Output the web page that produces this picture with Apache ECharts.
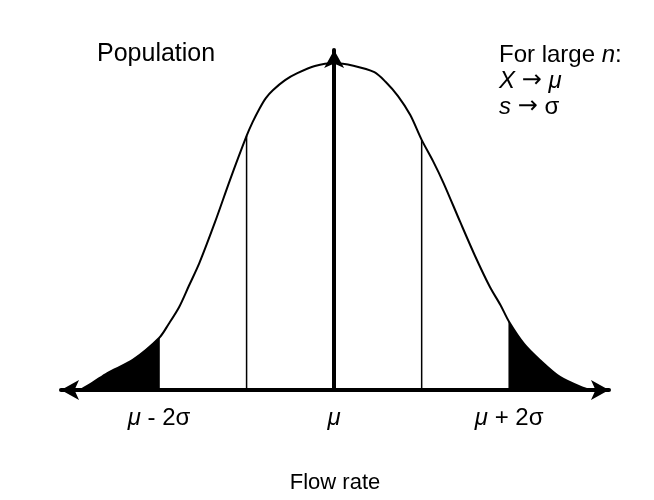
<!DOCTYPE html>
<html>
<head>
<meta charset="utf-8">
<script src="https://cdn.jsdelivr.net/npm/echarts@6/dist/echarts.min.js"></script>
<style>
  html, body { margin: 0; padding: 0; background: #fff; }
  #main { width: 654px; height: 500px; }
</style>
</head>
<body>
<div id="main"></div>
<script>
// curve: x in sigma units from mu, y in % of the peak height
var curveX = [-2.90, -2.75, -2.59, -2.30, -2.00, -1.89, -1.77, -1.66, -1.54, -1.36, -1.19, -1.00, -0.93, -0.85, -0.78, -0.70, -0.56, -0.42, -0.22, 0,
  0.22, 0.46, 0.59, 0.73, 0.87, 1.00, 1.13, 1.25, 1.44, 1.61, 1.78, 1.90, 2.00, 2.17, 2.35, 2.58, 2.85, 2.94]
var curveY = [0, 2.4, 5.2, 9.2, 15.9, 20.2, 25.4, 31.8, 38.8, 51.4, 64.2, 77.7, 82.0, 86.2, 89.3, 91.7, 94.8, 96.9, 99.1, 100,
  99.2, 97.2, 94.2, 89.9, 84.1, 76.5, 70.0, 63.3, 51.4, 41.0, 31.5, 26.0, 20.8, 14.1, 9.2, 4.0, 0.6, 0]

// vertical lines at mu +- sigma, mu +- 2 sigma
var lineX = [-2, -1, 1, 2]
var lineY = [15.9, 77.7, 76.5, 20.8]

// tick labels
var tickValues = [-2, 0, 2]
var tickLabels = ['{i|μ} - 2σ', '{i|μ}', '{i|μ} + 2σ']

var font = '"Liberation Sans", Arial, sans-serif'

function initChart() {
  var chart = echarts.init(document.getElementById('main'))

  var curve = curveX.map(function (x, i) { return [x, curveY[i]] })
  var leftTail = curve.filter(function (p) { return p[0] <= -2 })
  var rightTail = curve.filter(function (p) { return p[0] >= 2 })

  var series = [
    {
      type: 'line',
      data: leftTail,
      smooth: 0.3,
      symbol: 'none',
      lineStyle: { width: 0 },
      areaStyle: { color: '#000', opacity: 1 },
      silent: true,
      z: 1,
    },
    {
      type: 'line',
      data: rightTail,
      smooth: 0.3,
      symbol: 'none',
      lineStyle: { width: 0 },
      areaStyle: { color: '#000', opacity: 1 },
      silent: true,
      z: 1,
    },
    {
      type: 'line',
      data: curve,
      smooth: 0.3,
      symbol: 'none',
      lineStyle: { color: '#000', width: 2 },
      silent: true,
      z: 3,
    },
  ]

  lineX.forEach(function (x, i) {
    series.push({
      type: 'line',
      data: [[x, 0], [x, lineY[i]]],
      symbol: 'none',
      lineStyle: { color: '#000', width: 1.5 },
      silent: true,
      z: 2,
    })
  })

  var option = {
    backgroundColor: '#fff',
    animation: false,
    grid: {
      left: 61,
      right: 45,
      top: 50,
      bottom: 110,
    },
    xAxis: {
      type: 'value',
      min: -3.12,
      max: 3.14,
      name: 'Flow rate',
      nameLocation: 'middle',
      nameGap: 82,
      nameTextStyle: { color: '#000', fontSize: 22, fontFamily: font },
      axisLine: {
        symbol: ['arrow', 'arrow'],
        symbolSize: [15, 18],
        lineStyle: { color: '#000', width: 4 },
      },
      axisTick: { show: false },
      splitLine: { show: false },
      axisLabel: {
        customValues: tickValues,
        margin: 16,
        color: '#000',
        fontSize: 24,
        fontFamily: font,
        formatter: function (v) {
          return tickLabels[tickValues.indexOf(v)]
        },
        rich: {
          i: { fontStyle: 'italic', fontSize: 24, fontFamily: font, color: '#000' },
        },
      },
    },
    yAxis: {
      type: 'value',
      min: 0,
      max: 104,
      axisLine: {
        show: true,
        onZero: true,
        symbol: ['none', 'arrow'],
        symbolSize: [15, 18],
        lineStyle: { color: '#000', width: 4 },
      },
      axisTick: { show: false },
      axisLabel: { show: false },
      splitLine: { show: false },
    },
    graphic: [
      {
        type: 'text',
        left: 97,
        top: 42,
        style: { text: 'Population', fill: '#000', fontSize: 25, fontFamily: font },
      },
      {
        type: 'text',
        left: 499,
        top: 42,
        style: {
          text: 'For large {i|n}:\n{i|X} {a|→} {i|μ}\n{i|s} {a|→} σ',
          fill: '#000',
          fontSize: 24,
          fontFamily: font,
          lineHeight: 26,
          rich: {
            i: { fontStyle: 'italic', fontSize: 24, fontFamily: font, lineHeight: 26 },
            a: { fontSize: 24, fontFamily: '"DejaVu Sans", sans-serif', lineHeight: 26 },
          },
        },
      },
    ],
    series: series,
  }

  chart.setOption(option)

  window.addEventListener('resize', function () {
    chart.resize()
  })
}

initChart()
</script>
</body>
</html>
